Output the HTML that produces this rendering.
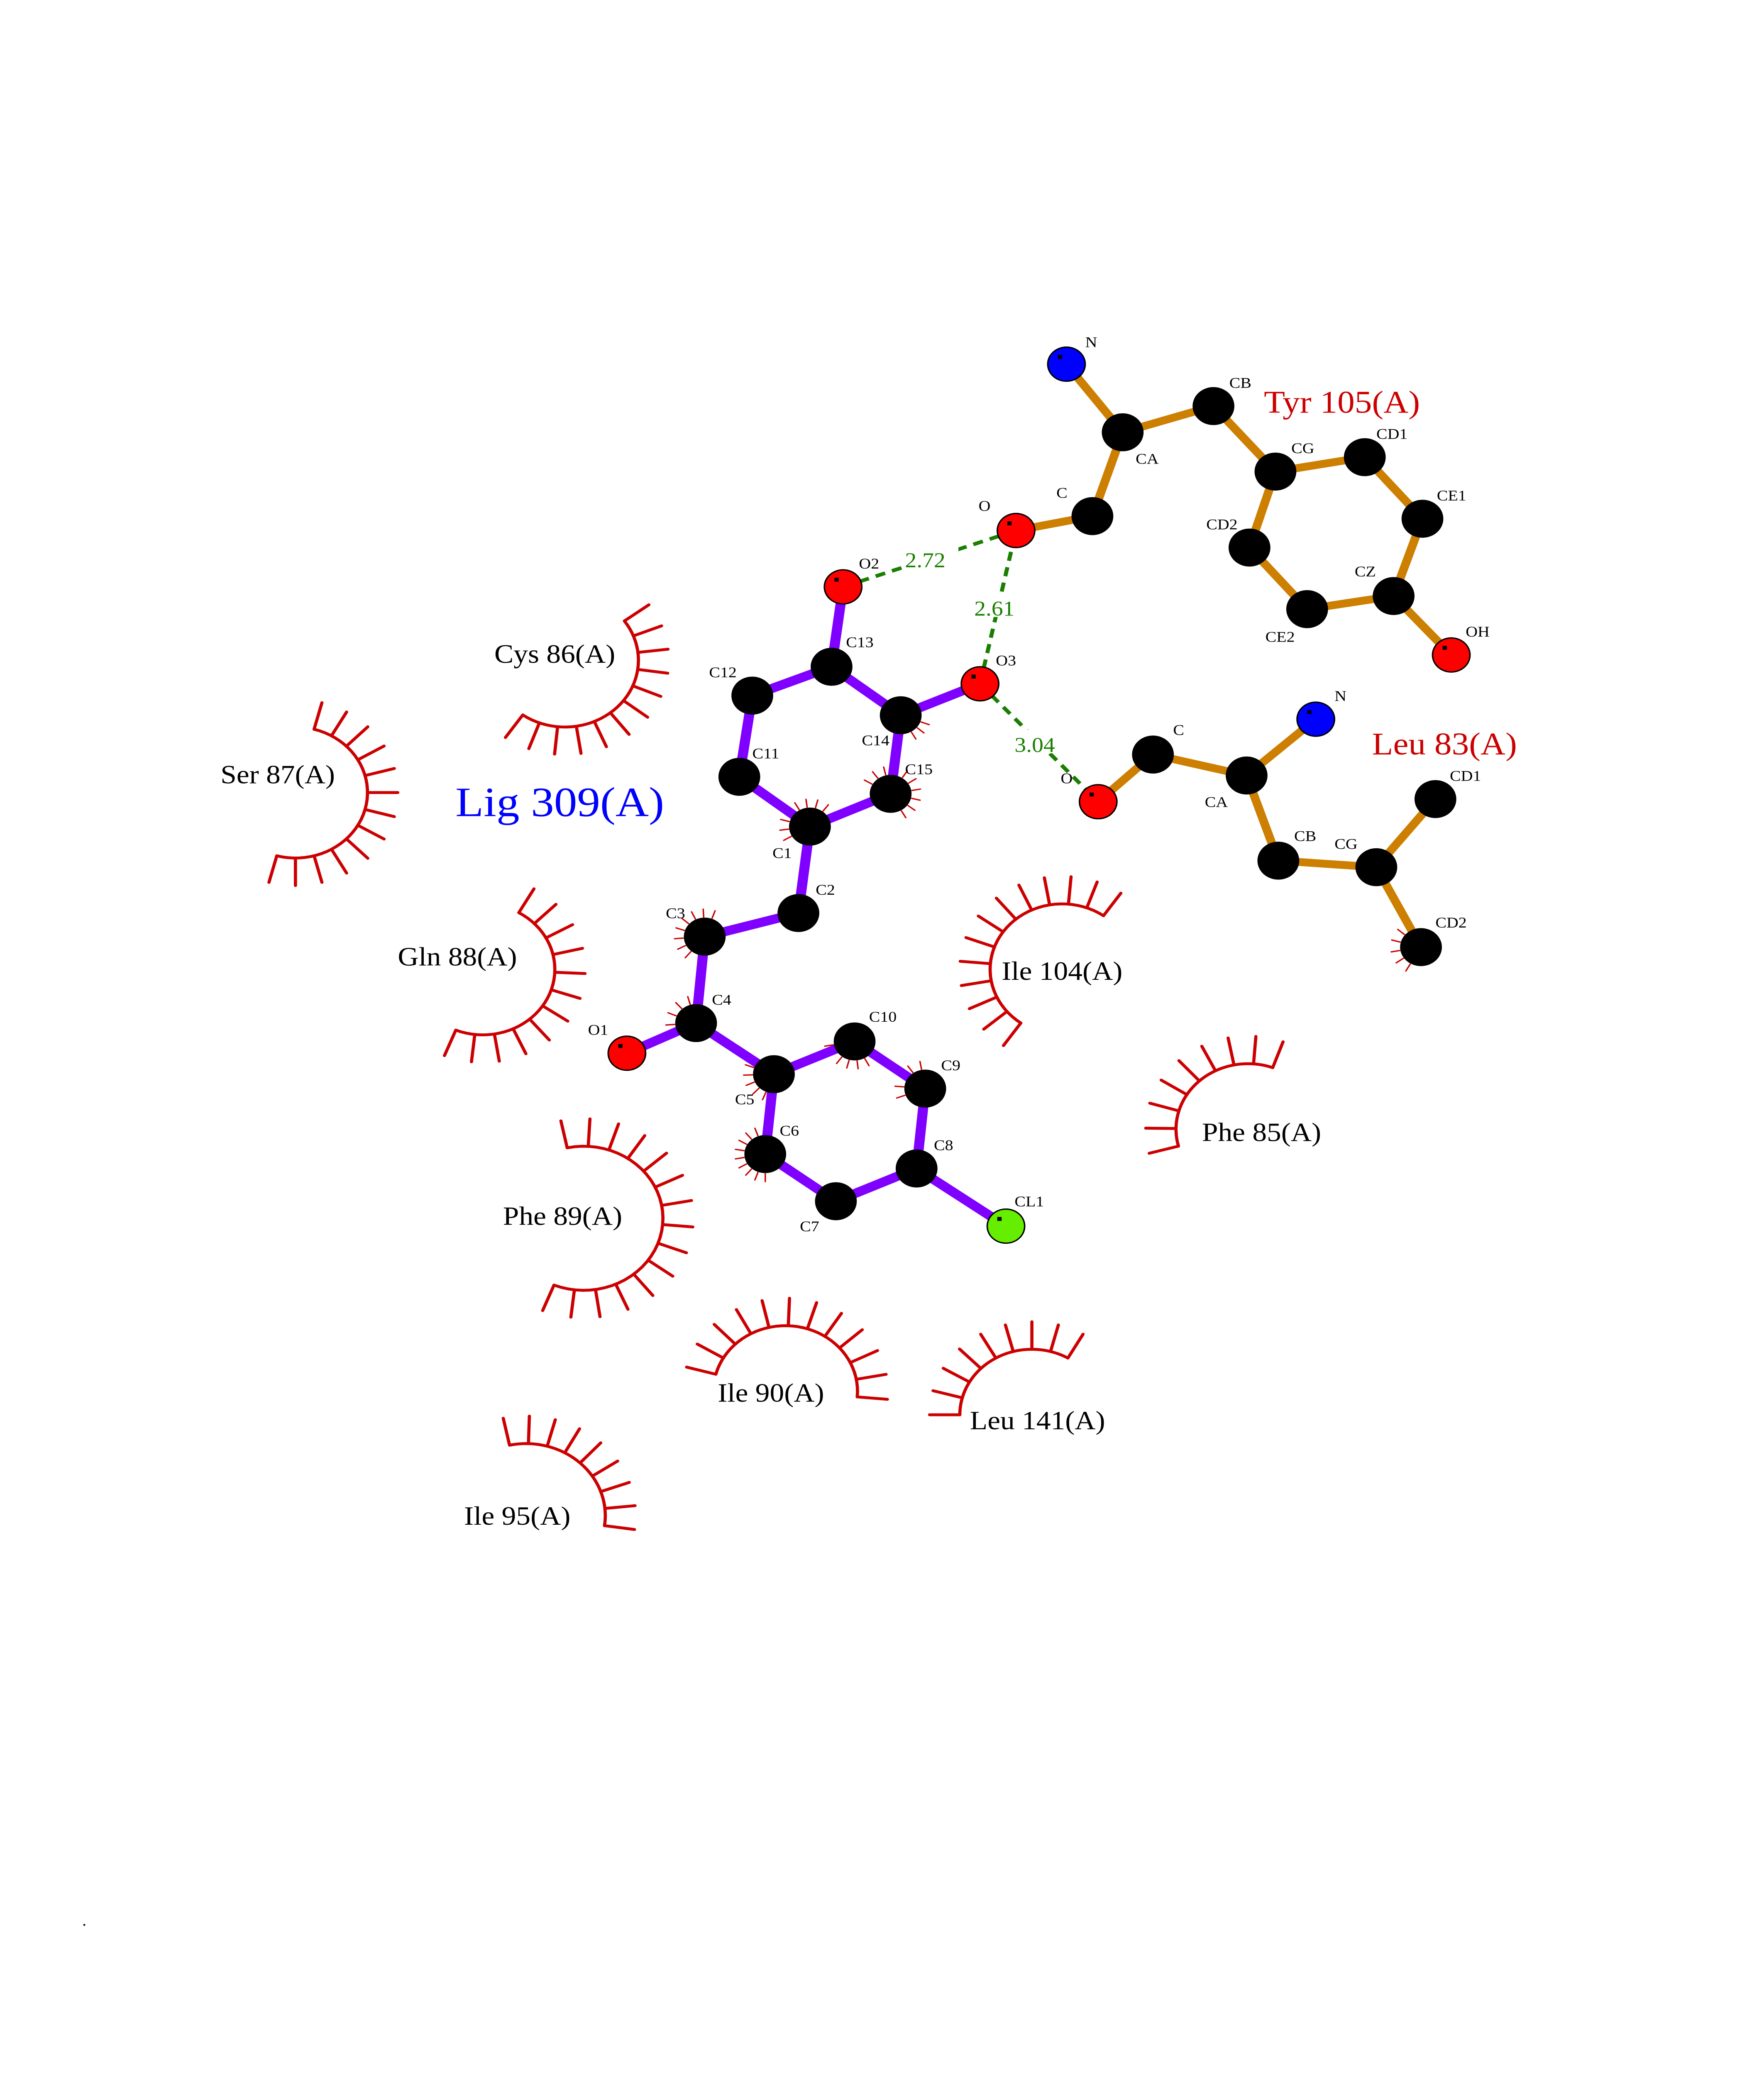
<!DOCTYPE html>
<html><head><meta charset="utf-8"><style>
html,body{margin:0;padding:0;background:#fff;width:100%;height:100%;overflow:hidden;}
svg{display:block;position:fixed;left:0;top:0;width:100vw;height:100vh;}
text{font-family:"Liberation Serif",serif;}
</style></head><body>
<svg id="s" viewBox="0 0 1224 1584" preserveAspectRatio="none" xmlns="http://www.w3.org/2000/svg">
<rect width="1224" height="1584" fill="#fff"/>
<g id="arcs" stroke="#cc0000" stroke-width="2.2" fill="none" stroke-linecap="round"></g>
<g stroke="#cc7f00" stroke-width="6" stroke-linecap="round">
<line x1="740" y1="278" x2="779" y2="330"/><line x1="779" y1="330" x2="842" y2="310"/>
<line x1="779" y1="330" x2="758" y2="394"/><line x1="758" y1="394" x2="705" y2="405"/>
<line x1="842" y1="310" x2="885" y2="360"/><line x1="885" y1="360" x2="947" y2="349"/>
<line x1="947" y1="349" x2="987" y2="396"/><line x1="987" y1="396" x2="967" y2="455"/>
<line x1="967" y1="455" x2="1007" y2="500"/><line x1="967" y1="455" x2="907" y2="465"/>
<line x1="907" y1="465" x2="867" y2="418"/><line x1="867" y1="418" x2="885" y2="360"/>
<line x1="762" y1="612" x2="800" y2="576"/><line x1="800" y1="576" x2="865" y2="592"/>
<line x1="865" y1="592" x2="913" y2="549"/><line x1="865" y1="592" x2="887" y2="657"/>
<line x1="887" y1="657" x2="955" y2="662"/><line x1="955" y1="662" x2="996" y2="610"/>
<line x1="955" y1="662" x2="986" y2="723"/>
</g>
<g stroke="#8000ff" stroke-width="7" stroke-linecap="round">
<line x1="585" y1="448" x2="577" y2="509"/><line x1="577" y1="509" x2="522" y2="531"/>
<line x1="522" y1="531" x2="513" y2="593"/><line x1="513" y1="593" x2="562" y2="631"/>
<line x1="562" y1="631" x2="618" y2="606"/><line x1="618" y1="606" x2="625" y2="546"/>
<line x1="625" y1="546" x2="577" y2="509"/><line x1="625" y1="546" x2="680" y2="522"/>
<line x1="562" y1="631" x2="554" y2="697"/><line x1="554" y1="697" x2="489" y2="715"/>
<line x1="489" y1="715" x2="483" y2="781"/><line x1="483" y1="781" x2="435" y2="804"/>
<line x1="483" y1="781" x2="537" y2="820"/><line x1="537" y1="820" x2="593" y2="795"/>
<line x1="593" y1="795" x2="642" y2="831"/><line x1="642" y1="831" x2="636" y2="892"/>
<line x1="636" y1="892" x2="698" y2="936"/><line x1="636" y1="892" x2="580" y2="917"/>
<line x1="580" y1="917" x2="531" y2="881"/><line x1="531" y1="881" x2="537" y2="820"/>
</g>
<g stroke="#1a7f00" stroke-width="2.8" stroke-dasharray="7,5">
<line x1="585" y1="448" x2="705" y2="405"/>
<line x1="680" y1="522" x2="705" y2="405"/>
<line x1="680" y1="522" x2="762" y2="612"/>
</g>
<g font-size="16" fill="#1a7f00">
<rect x="627" y="416" width="38" height="18" fill="#fff"/><text x="628" y="433">2.72</text>
<rect x="675" y="453" width="38" height="18" fill="#fff"/><text x="676" y="470">2.61</text>
<rect x="703" y="557" width="38" height="18" fill="#fff"/><text x="704" y="574">3.04</text>
</g>
<g id="atoms" stroke="#000" stroke-width="1"></g>
<g font-size="11.5" fill="#000">
<text x="753" y="265">N</text><text x="788" y="354">CA</text><text x="853" y="296">CB</text>
<text x="733" y="380">C</text><text x="679" y="390">O</text><text x="896" y="346">CG</text>
<text x="955" y="335">CD1</text><text x="997" y="382">CE1</text><text x="940" y="440">CZ</text>
<text x="1017" y="486">OH</text><text x="878" y="490">CE2</text><text x="837" y="404">CD2</text>
<text x="596" y="434">O2</text><text x="587" y="494">C13</text><text x="492" y="517">C12</text>
<text x="522" y="579">C11</text><text x="536" y="655">C1</text><text x="628" y="591">C15</text>
<text x="598" y="569">C14</text><text x="691" y="508">O3</text><text x="566" y="683">C2</text>
<text x="462" y="701">C3</text><text x="494" y="767">C4</text><text x="408" y="790">O1</text>
<text x="510" y="843">C5</text><text x="603" y="780">C10</text><text x="653" y="817">C9</text>
<text x="648" y="878">C8</text><text x="704" y="921">CL1</text><text x="555" y="940">C7</text>
<text x="541" y="867">C6</text>
<text x="926" y="535">N</text><text x="814" y="561">C</text><text x="836" y="616">CA</text>
<text x="736" y="598">O</text><text x="898" y="642">CB</text><text x="926" y="648">CG</text>
<text x="1006" y="596">CD1</text><text x="996" y="708">CD2</text>
</g>
<g font-size="20" fill="#000">
<text x="343" y="506">Cys 86(A)</text>
<text x="153" y="598">Ser 87(A)</text>
<text x="276" y="737">Gln 88(A)</text>
<text x="349" y="935">Phe 89(A)</text>
<text x="498" y="1070">Ile 90(A)</text>
<text x="673" y="1091">Leu 141(A)</text>
<text x="322" y="1164">Ile 95(A)</text>
<text x="695" y="748">Ile 104(A)</text>
<text x="834" y="871">Phe 85(A)</text>
</g>
<text x="877" y="315" font-size="24" fill="#cc0000">Tyr 105(A)</text>
<text x="952" y="576" font-size="24" fill="#cc0000">Leu 83(A)</text>
<text x="316" y="623" font-size="32" fill="#0000ff">Lig 309(A)</text>
<text x="57" y="1470" font-size="12" fill="#000">.</text>
</svg>
<script>
var NS="http://www.w3.org/2000/svg";
var arcs=document.getElementById('arcs');
function ln(g,x1,y1,x2,y2,w){var l=document.createElementNS(NS,'line');l.setAttribute('x1',x1);l.setAttribute('y1',y1);l.setAttribute('x2',x2);l.setAttribute('y2',y2);if(w)l.setAttribute('stroke-width',w);g.appendChild(l);}
function arc(cx,cy,r,a0,a1,n){
 var p=document.createElementNS(NS,'path');var d='';
 for(var i=0;i<=40;i++){var a=(a0+(a1-a0)*i/40)*Math.PI/180;d+=(i?'L':'M')+(cx+r*Math.cos(a)).toFixed(2)+' '+(cy+r*Math.sin(a)).toFixed(2);}
 p.setAttribute('d',d);arcs.appendChild(p);
 for(var i=0;i<n;i++){var a=(a0+(a1-a0)*i/(n-1))*Math.PI/180;
  ln(arcs,cx+r*Math.cos(a),cy+r*Math.sin(a),cx+(r+21)*Math.cos(a),cy+(r+21)*Math.sin(a));}
}
arc(392,504,51,-36,125,12);
arc(205,605,50,-75,105,13);
arc(335,740,50,-60,112,12);
arc(405,930,55,-102,112,15);
arc(545,1062,50,-165,5,12);
arc(716,1080,50,180,300,9);
arc(365,1157,55,-102,8,9);
arc(737,740,50,125,305,13);
arc(866,862,50,165,290,9);
function lash(cx,cy,a0,a1,n){for(var i=0;i<n;i++){var a=(a0+(a1-a0)*i/(n-1))*Math.PI/180;ln(arcs,cx+15*Math.cos(a),cy+15*Math.sin(a),cx+21*Math.cos(a),cy+21*Math.sin(a),1);}}
lash(618,606,-150,60,10);lash(562,631,150,330,9);lash(489,715,130,290,8);
lash(483,781,150,280,6);lash(537,820,90,200,6);lash(531,881,90,250,9);
lash(593,795,40,170,7);lash(642,831,160,260,5);lash(986,723,120,220,5);lash(625,546,20,60,3);
var atoms=[[740,278,'#0000ff'],[779,330],[842,310],[758,394],[705,405,'#ff0000'],[885,360],[947,349],[987,396],[967,455],[1007,500,'#ff0000'],[907,465],[867,418],
[585,448,'#ff0000'],[577,509],[522,531],[513,593],[562,631],[618,606],[625,546],[680,522,'#ff0000'],[554,697],[489,715],[483,781],[435,804,'#ff0000'],[537,820],[593,795],[642,831],[636,892],[698,936,'#66ee00'],[580,917],[531,881],
[762,612,'#ff0000'],[800,576],[865,592],[913,549,'#0000ff'],[887,657],[955,662],[996,610],[986,723]];
var ag=document.getElementById('atoms');
atoms.forEach(function(a){var c=document.createElementNS(NS,'circle');var r=a[2]?13:14;
 c.setAttribute('cx',a[0]);c.setAttribute('cy',a[1]);c.setAttribute('r',r);c.setAttribute('fill',a[2]||'#000');ag.appendChild(c);
 var d=document.createElementNS(NS,'rect');d.setAttribute('x',a[0]-6);d.setAttribute('y',a[1]-7);d.setAttribute('width',3);d.setAttribute('height',3);d.setAttribute('fill','#000');d.setAttribute('stroke','none');ag.appendChild(d);});
</script>
</body></html>
